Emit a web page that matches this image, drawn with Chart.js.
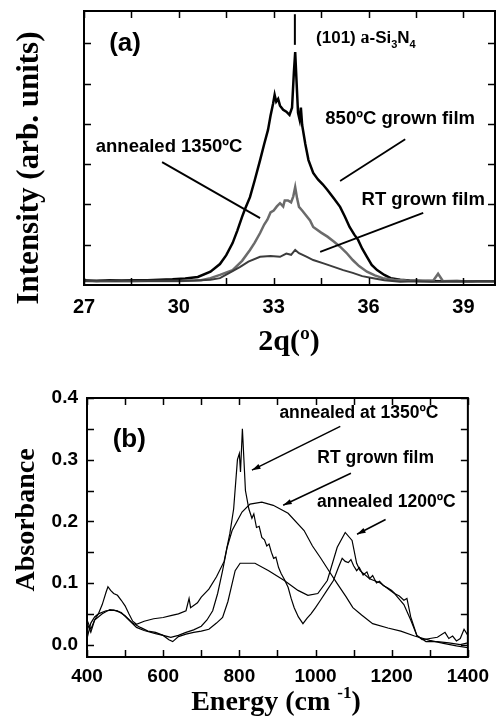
<!DOCTYPE html>
<html>
<head>
<meta charset="utf-8">
<script src="https://cdn.jsdelivr.net/npm/chart.js@4.4.1/dist/chart.umd.min.js"></script>
<style>
  body { margin: 0; background: #fff; }
  canvas { position: absolute; left: 0; }
  #xrd { top: 0; }
  #ftir { top: 360px; }
</style>
</head>
<body>
<canvas id="xrd" width="497" height="360"></canvas>
<canvas id="ftir" width="497" height="361"></canvas>
<script>
// (a) XRD patterns: [2theta, intensity]
const film850 = [[27,0.12],[27.4,0.1],[27.8,0.12],[28.2,0.11],[28.6,0.12],[29,0.12],[29.4,0.13],[29.8,0.14],[30.2,0.16],[30.6,0.2],
  [31,0.33],[31.3,0.52],[31.5,0.74],[31.7,1.04],[31.85,1.35],[32,1.69],[32.1,1.9],[32.25,2.18],[32.4,2.6],[32.57,3.1],
  [32.7,3.5],[32.82,3.85],[32.9,4.2],[32.98,4.5],[33.03,4.72],[33.08,4.55],[33.14,4.62],[33.2,4.45],[33.3,4.35],[33.4,4.3],
  [33.5,4.22],[33.58,4.4],[33.64,5.3],[33.68,5.78],[33.72,5.1],[33.77,4.27],[33.82,4.1],[33.86,4.4],[33.9,3.97],[34,3.5],
  [34.1,3.1],[34.25,2.78],[34.4,2.62],[34.55,2.5],[34.7,2.36],[34.9,2.15],[35.1,1.94],[35.25,1.7],[35.4,1.44],[35.55,1.25],
  [35.67,1.12],[35.8,0.9],[35.95,0.7],[36.1,0.5],[36.27,0.37],[36.5,0.25],[36.7,0.17],[37,0.13],[37.3,0.11],[37.8,0.1],
  [38.3,0.09],[38.8,0.1],[39.3,0.08],[39.7,0.09],[40,0.08]];
const anneal1350a = [[27,0.1],[27.5,0.09],[28,0.1],[28.5,0.09],[29,0.1],[29.5,0.1],[30,0.1],[30.4,0.11],[30.7,0.12],[31,0.17],
  [31.3,0.25],[31.7,0.37],[32,0.6],[32.25,0.87],[32.4,1.05],[32.57,1.29],[32.7,1.5],[32.8,1.62],[32.9,1.8],[33,1.85],
  [33.1,1.95],[33.2,2.03],[33.3,1.95],[33.35,2.1],[33.45,2.1],[33.55,2.05],[33.62,2.2],[33.68,2.43],[33.74,2.15],[33.8,1.94],
  [33.9,1.85],[34,1.75],[34.15,1.6],[34.25,1.44],[34.5,1.3],[34.7,1.2],[34.9,1.08],[35.1,0.95],[35.3,0.8],[35.5,0.62],
  [35.7,0.47],[35.95,0.33],[36.2,0.24],[36.45,0.17],[36.8,0.13],[37.2,0.11],[37.7,0.1],[38.05,0.11],[38.2,0.28],[38.35,0.1],
  [38.8,0.09],[39.4,0.08],[40,0.08]];
const filmRTa = [[27,0.1],[27.5,0.11],[28,0.1],[28.5,0.11],[29,0.1],[29.5,0.1],[30,0.1],[30.5,0.11],[31,0.13],[31.3,0.17],
  [31.6,0.3],[31.94,0.45],[32.2,0.58],[32.57,0.7],[32.9,0.72],[33.2,0.7],[33.4,0.78],[33.55,0.75],[33.68,0.87],[33.8,0.79],
  [34.05,0.7],[34.25,0.62],[34.6,0.53],[34.9,0.45],[35.2,0.37],[35.5,0.3],[35.8,0.22],[36.15,0.17],[36.5,0.12],[37,0.08],
  [37.5,0.09],[38,0.08],[38.5,0.09],[39,0.09],[39.5,0.1],[40,0.1]];
const xrdTicks = [27, 28.5, 30, 31.5, 33, 34.5, 36, 37.5, 39];
const xrdLabels = [27, 30, 33, 36, 39];
const xrdYTicks = [1, 2, 3, 4, 5, 6];

// (b) IR absorbance: [energy, absorbance]
const anneal1350b = [[400,0.035],[410,0.02],[420,0.04],[430,0.05],[440,0.065],[450,0.085],[455,0.094],[462,0.088],[470,0.083],[480,0.08],
  [490,0.072],[500,0.063],[510,0.05],[520,0.038],[530,0.033],[550,0.038],[575,0.042],[600,0.044],[620,0.047],[640,0.05],
  [660,0.055],[668,0.075],[672,0.06],[690,0.068],[700,0.077],[720,0.09],[740,0.11],[760,0.135],[775,0.18],[785,0.22],
  [795,0.3],[800,0.31],[803,0.28],[808,0.35],[812,0.3],[816,0.25],[825,0.22],[833,0.205],[838,0.212],[845,0.19],
  [852,0.192],[859,0.174],[866,0.17],[872,0.16],[878,0.163],[884,0.15],[890,0.14],[896,0.142],[903,0.125],[910,0.115],
  [918,0.106],[928,0.093],[936,0.075],[944,0.06],[955,0.045],[967,0.034],[978,0.043],[988,0.05],[1000,0.06],[1013,0.072],
  [1030,0.088],[1047,0.104],[1060,0.125],[1070,0.14],[1078,0.135],[1086,0.133],[1093,0.138],[1100,0.128],[1108,0.12],[1115,0.125],
  [1125,0.113],[1135,0.118],[1142,0.107],[1150,0.112],[1160,0.1],[1168,0.103],[1178,0.096],[1190,0.092],[1200,0.088],[1210,0.082],
  [1220,0.079],[1232,0.072],[1240,0.075],[1250,0.045],[1266,0.015],[1280,0.008],[1300,0.01],[1320,0.012],[1340,0.02],[1350,0.01],
  [1360,0.014],[1370,0.006],[1380,0.01],[1390,0.025],[1400,0.015]];
const filmRTb = [[400,0.04],[410,0.025],[420,0.04],[440,0.05],[460,0.057],[480,0.055],[500,0.047],[520,0.035],[540,0.028],[560,0.022],
  [580,0.02],[600,0.015],[620,0.012],[640,0.015],[660,0.02],[680,0.024],[700,0.03],[715,0.04],[730,0.055],[743,0.083],
  [756,0.12],[768,0.158],[781,0.185],[794,0.2],[807,0.215],[828,0.228],[859,0.231],[889,0.226],[928,0.213],[970,0.185],
  [992,0.16],[1013,0.141],[1040,0.115],[1057,0.099],[1080,0.078],[1098,0.06],[1121,0.048],[1150,0.034],[1190,0.027],[1224,0.022],
  [1260,0.014],[1300,0.007],[1336,0.002],[1370,-0.002],[1400,-0.005]];
const anneal1200 = [[400,0.01],[410,0.035],[420,0.045],[430,0.05],[450,0.055],[470,0.056],[490,0.052],[510,0.04],[530,0.028],[550,0.023],
  [580,0.018],[600,0.015],[615,0.008],[625,0.005],[640,0.013],[660,0.017],[680,0.02],[700,0.022],[720,0.025],[740,0.035],
  [756,0.044],[770,0.07],[789,0.12],[802,0.132],[841,0.132],[877,0.12],[918,0.104],[954,0.088],[980,0.08],[1006,0.083],
  [1031,0.104],[1057,0.158],[1078,0.182],[1096,0.169],[1108,0.132],[1117,0.12],[1142,0.107],[1170,0.1],[1207,0.083],[1232,0.065],
  [1250,0.04],[1266,0.015],[1290,0.005],[1320,0.005],[1350,0.003],[1380,0],[1400,0.003]];
const irTicks = [400, 500, 600, 700, 800, 900, 1000, 1100, 1200, 1300, 1400];
const irLabels = [400, 600, 800, 1000, 1200, 1400];
const irYTicks = [0, 0.05, 0.1, 0.15, 0.2, 0.25, 0.3, 0.35, 0.4];
const irYLabels = [0, 0.1, 0.2, 0.3, 0.4];

const SANS = '"Liberation Sans", Arial, sans-serif';
const SERIF = '"Liberation Serif", "Times New Roman", serif';

const pts = arr => arr.map(([x, y]) => ({ x, y }));
const line = (data, color, width) => ({ data: pts(data), borderColor: color, borderWidth: width, pointRadius: 0, tension: 0, fill: false });

function px(chart, x, y) {
  return [chart.scales.x.getPixelForValue(x), chart.scales.y.getPixelForValue(y)];
}

function drawFrame(chart) {
  const { ctx, chartArea: a, scales: { x, y } } = chart;
  ctx.save();
  ctx.strokeStyle = '#000';
  ctx.lineWidth = 1.5;
  ctx.beginPath();
  x.ticks.forEach(t => {
    const p = Math.round(x.getPixelForValue(t.value)) + 0.5;
    ctx.moveTo(p, a.bottom); ctx.lineTo(p, a.bottom - 7);
    ctx.moveTo(p, a.top); ctx.lineTo(p, a.top + 7);
  });
  y.ticks.forEach(t => {
    const p = Math.round(y.getPixelForValue(t.value)) + 0.5;
    ctx.moveTo(a.left, p); ctx.lineTo(a.left + 7, p);
    ctx.moveTo(a.right, p); ctx.lineTo(a.right - 7, p);
  });
  ctx.stroke();
  ctx.lineWidth = 2;
  ctx.strokeRect(a.left, a.top, a.right - a.left, a.bottom - a.top);
  ctx.restore();
}

function segment(chart, x1, y1, x2, y2, head) {
  const ctx = chart.ctx;
  const [ax, ay] = px(chart, x1, y1);
  const [bx, by] = px(chart, x2, y2);
  ctx.beginPath();
  ctx.moveTo(ax, ay); ctx.lineTo(bx, by);
  ctx.stroke();
  if (head) {
    const ang = Math.atan2(by - ay, bx - ax);
    ctx.beginPath();
    ctx.moveTo(bx, by);
    ctx.lineTo(bx - 9 * Math.cos(ang - 0.3), by - 9 * Math.sin(ang - 0.3));
    ctx.lineTo(bx - 9 * Math.cos(ang + 0.3), by - 9 * Math.sin(ang + 0.3));
    ctx.closePath();
    ctx.fill();
  }
}

function label(chart, text, x, y, font) {
  const ctx = chart.ctx;
  const [lx, ly] = px(chart, x, y);
  ctx.font = font;
  ctx.textAlign = 'center';
  ctx.textBaseline = 'middle';
  ctx.fillText(text, lx, ly);
}

const xrdNotes = {
  id: 'xrdNotes',
  afterDatasetsDraw(chart) {
    const ctx = chart.ctx;
    ctx.save();
    ctx.fillStyle = '#000';
    ctx.strokeStyle = '#000';
    ctx.lineWidth = 2;
    segment(chart, 33.67, 6.72, 33.67, 5.96, false);
    ctx.lineWidth = 1.8;
    segment(chart, 37.16, 3.62, 35.1, 2.58, false);
    segment(chart, 37.73, 1.79, 34.47, 0.82, false);
    segment(chart, 29.47, 3.05, 32.57, 1.66, false);
    label(chart, '(a)', 28.3, 5.98, 'bold 26px ' + SANS);
    label(chart, '850ºC grown film', 37.0, 4.12, 'bold 18.5px ' + SANS);
    label(chart, 'RT grown film', 37.73, 2.11, 'bold 18.5px ' + SANS);
    label(chart, 'annealed 1350ºC', 29.69, 3.42, 'bold 18.5px ' + SANS);
    // (101) a-Si3N4 with subscripts
    let [tx, ty] = px(chart, 34.34, 6.15);
    ctx.textAlign = 'left';
    ctx.textBaseline = 'alphabetic';
    ty += 6;
    const parts = [['(101) ', 'bold 17px ' + SANS, 0], ['a', 'bold 18px ' + SERIF, 0], ['-Si', 'bold 17px ' + SANS, 0],
      ['3', 'bold 11px ' + SANS, 5], ['N', 'bold 17px ' + SANS, 0], ['4', 'bold 11px ' + SANS, 5]];
    parts.forEach(([s, f, dy]) => {
      ctx.font = f;
      ctx.fillText(s, tx, ty + dy);
      tx += ctx.measureText(s).width;
    });
    ctx.restore();
    drawFrame(chart);
  },
  afterDraw(chart) {
    const ctx = chart.ctx;
    ctx.save();
    ctx.fillStyle = '#000';
    ctx.font = 'bold 31px ' + SERIF;
    ctx.textAlign = 'center';
    ctx.textBaseline = 'middle';
    ctx.translate(30, 168);
    ctx.rotate(-Math.PI / 2);
    ctx.fillText('Intensity (arb. units)', 0, 0);
    ctx.restore();
    ctx.save();
    ctx.fillStyle = '#000';
    ctx.font = 'bold 30px ' + SERIF;
    ctx.textAlign = 'center';
    ctx.textBaseline = 'alphabetic';
    ctx.fillText('2q(º)', 289, 350);
    ctx.restore();
  }
};

const irNotes = {
  id: 'irNotes',
  afterDatasetsDraw(chart) {
    const ctx = chart.ctx;
    ctx.save();
    ctx.fillStyle = '#000';
    ctx.strokeStyle = '#000';
    ctx.lineWidth = 1.5;
    segment(chart, 1065, 0.354, 833, 0.283, true);
    segment(chart, 1093, 0.278, 915, 0.226, true);
    segment(chart, 1184, 0.203, 1109, 0.179, true);
    label(chart, '(b)', 511, 0.332, 'bold 26px ' + SANS);
    label(chart, 'annealed at 1350ºC', 1114, 0.376, 'bold 17.5px ' + SANS);
    label(chart, 'RT grown film', 1158, 0.302, 'bold 17.5px ' + SANS);
    label(chart, 'annealed 1200ºC', 1186, 0.231, 'bold 17.5px ' + SANS);
    ctx.restore();
    drawFrame(chart);
  },
  afterDraw(chart) {
    const ctx = chart.ctx;
    ctx.save();
    ctx.fillStyle = '#000';
    ctx.font = 'bold 28px ' + SERIF;
    ctx.textAlign = 'center';
    ctx.textBaseline = 'middle';
    ctx.translate(27, 160);
    ctx.rotate(-Math.PI / 2);
    ctx.fillText('Absorbance', 0, 0);
    ctx.restore();
    // Energy (cm -1) with superscript
    ctx.save();
    ctx.fillStyle = '#000';
    ctx.textAlign = 'left';
    ctx.textBaseline = 'alphabetic';
    const big = 'bold 28px ' + SERIF, small = 'bold 17px ' + SERIF;
    const parts = [['Energy (cm ', big, 0], ['-1', small, -12], [')', big, 0]];
    let w = 0;
    parts.forEach(([s, f]) => { ctx.font = f; w += ctx.measureText(s).width; });
    let tx = 276 - w / 2;
    parts.forEach(([s, f, dy]) => {
      ctx.font = f;
      ctx.fillText(s, tx, 350 + dy);
      tx += ctx.measureText(s).width;
    });
    ctx.restore();
  }
};

new Chart('xrd', {
  type: 'line',
  data: {
    datasets: [
      line(filmRTa, '#3c3c3c', 2),
      line(anneal1350a, '#6b6b6b', 2.5),
      line(film850, '#000000', 2.5)
    ]
  },
  options: {
    responsive: false,
    animation: false,
    layout: { padding: { left: 0, right: 2, top: 11, bottom: 0 } },
    plugins: { legend: { display: false }, tooltip: { enabled: false } },
    scales: {
      x: {
        type: 'linear', min: 27, max: 40,
        grid: { display: false, drawTicks: false },
        border: { display: false },
        afterBuildTicks: s => { s.ticks = xrdTicks.map(v => ({ value: v })); },
        afterFit: s => { s.height = 75; },
        ticks: {
          padding: 10, maxRotation: 0, autoSkip: false, color: '#000',
          font: { family: SANS, size: 20, weight: 'bold' },
          callback: v => xrdLabels.includes(v) ? String(v) : ''
        }
      },
      y: {
        type: 'linear', min: 0, max: 6.8,
        grid: { display: false, drawTicks: false },
        border: { display: false },
        afterBuildTicks: s => { s.ticks = xrdYTicks.map(v => ({ value: v })); },
        afterFit: s => { s.width = 84; },
        ticks: { display: false }
      }
    }
  },
  plugins: [xrdNotes]
});

new Chart('ftir', {
  type: 'line',
  data: {
    datasets: [
      line(filmRTb, '#000', 1.2),
      line(anneal1200, '#000', 1.2),
      line(anneal1350b, '#000', 1.2)
    ]
  },
  options: {
    responsive: false,
    animation: false,
    layout: { padding: { left: 0, right: 22, top: 38, bottom: 0 } },
    plugins: { legend: { display: false }, tooltip: { enabled: false } },
    scales: {
      x: {
        type: 'linear', min: 400, max: 1400,
        grid: { display: false, drawTicks: false },
        border: { display: false },
        afterBuildTicks: s => { s.ticks = irTicks.map(v => ({ value: v })); },
        afterFit: s => { s.height = 64; },
        ticks: {
          padding: 8, maxRotation: 0, autoSkip: false, color: '#000',
          font: { family: SANS, size: 19, weight: 'bold' },
          callback: v => irLabels.includes(v) ? String(v) : ''
        }
      },
      y: {
        type: 'linear', min: -0.02, max: 0.4,
        grid: { display: false, drawTicks: false },
        border: { display: false },
        afterBuildTicks: s => { s.ticks = irYTicks.map(v => ({ value: v })); },
        afterFit: s => { s.width = 87; },
        ticks: {
          padding: 9, color: '#000',
          font: { family: SANS, size: 19, weight: 'bold' },
          callback: v => irYLabels.includes(v) ? v.toFixed(1) : ''
        }
      }
    }
  },
  plugins: [irNotes]
});
</script>
</body>
</html>
